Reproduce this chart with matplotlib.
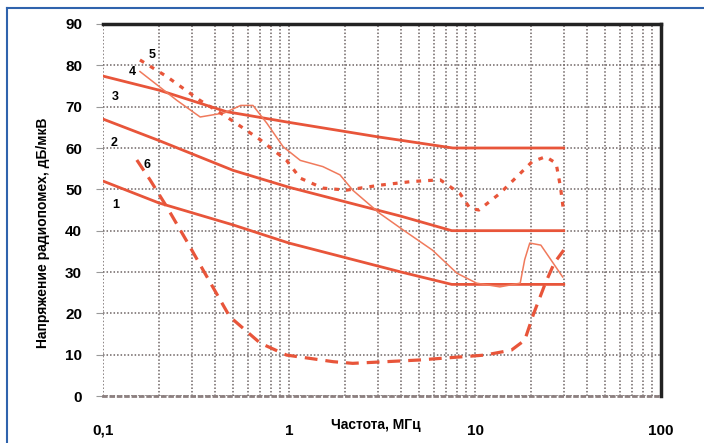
import numpy as np
import matplotlib.pyplot as plt
from matplotlib.ticker import LogLocator, NullFormatter, FixedLocator, FixedFormatter
from matplotlib.lines import Line2D

plt.rcParams['font.family'] = ['Liberation Sans', 'DejaVu Sans']

# limit curves 1-3 (MHz, dB/uV)
f1 = [0.1, 0.2, 0.5, 1.0, 4.0, 7.5, 30]
u1 = [52, 46.7, 41.4, 37.0, 30.0, 27.0, 27.0]
f2 = [0.1, 0.2, 0.5, 1.0, 4.0, 7.5, 30]
u2 = [67, 61.8, 54.6, 50.5, 43.5, 40.0, 40.0]
f3 = [0.1, 0.2, 0.46, 1.0, 3.0, 7.6, 30]
u3 = [77.4, 74.0, 68.8, 66.2, 62.7, 60.0, 60.0]

# curve 4 - thin measured line
f4 = [0.158, 0.25, 0.333, 0.45, 0.55, 0.64, 0.76, 0.93, 1.15, 1.52, 1.88, 2.2,
      3.07, 4.1, 5.9, 8.0, 10.2, 13.6, 17.5, 18.5, 19.7, 22.6, 29.6]
u4 = [78.5, 71.5, 67.5, 68.5, 70.3, 70.3, 66.0, 60.3, 57.0, 55.5, 53.5, 49.8,
      44.2, 40.2, 35.3, 29.7, 27.3, 26.4, 27.3, 33.0, 37.0, 36.5, 28.8]

# curve 5 - dotted measured line
f5 = [0.158, 0.22, 0.33, 0.46, 0.7, 0.97, 1.15, 1.52, 2.04, 3.07, 4.6, 6.5,
      8.3, 9.4, 10.5, 13.6, 20.3, 24.0, 27.3, 28.8, 29.8]
u5 = [81.3, 77.3, 71.6, 67.6, 62.0, 57.0, 52.7, 50.3, 49.8, 51.0, 51.9, 52.3,
      49.0, 45.4, 45.0, 49.0, 56.7, 57.9, 56.3, 50.6, 45.4]

# curve 6 - dashed measured line
f6 = [0.152, 0.179, 0.22, 0.28, 0.345, 0.48, 0.7, 0.97, 1.73, 2.2, 4.97, 11.3,
      15.7, 18.5, 20.7, 23.9, 26.7, 30.0]
u6 = [57.1, 52.3, 45.8, 37.7, 30.5, 19.2, 12.8, 9.9, 8.3, 7.9, 8.7, 9.9,
      11.1, 13.5, 20.0, 27.3, 32.2, 35.3]

labels = ['1', '2', '3', '4', '5', '6']
label_f = [0.117, 0.114, 0.116, 0.143, 0.184, 0.173]
label_u = [46.2, 61.2, 72.3, 78.4, 82.5, 56.0]

red = '#e8553a'

fig = plt.figure(figsize=(7.04, 4.43), dpi=100)
ax = fig.add_axes([103 / 704, 1 - 396 / 443, 558 / 704, 372 / 443])

# blue frame round the picture
fig.add_artist(Line2D([7 / 704, 7 / 704], [0, 1 - 8 / 443], color='#2f63ad', lw=1.5,
                      transform=fig.transFigure))
fig.add_artist(Line2D([7 / 704, 1], [1 - 8 / 443, 1 - 8 / 443], color='#2f63ad', lw=1.5,
                      transform=fig.transFigure))

ax.plot(f1, u1, color=red, lw=2)
ax.plot(f2, u2, color=red, lw=2)
ax.plot(f3, u3, color=red, lw=2)
ax.plot(f4, u4, color='#f07a5c', lw=1.1)
ax.plot(f5, u5, color=red, lw=2.3, linestyle=(0, (1.5, 2.2)))
ax.plot(f6, u6, color=red, lw=2.3, linestyle=(0, (4, 2.5)))

for t, x, y in zip(labels, label_f, label_u):
    ax.text(x, y, t, fontsize=9, fontweight='bold', ha='center', va='center')

ax.set_xscale('log')
ax.set_xlim(0.1, 100)
ax.set_ylim(0, 90)
ax.xaxis.set_major_locator(FixedLocator([0.1, 1, 10, 100]))
ax.xaxis.set_major_formatter(FixedFormatter(['0,1', '1', '10', '100']))
ax.xaxis.set_minor_locator(LogLocator(base=10, subs=np.arange(2, 10)))
ax.xaxis.set_minor_formatter(NullFormatter())
ax.set_yticks(range(0, 91, 10))

ax.set_axisbelow(True)
ax.grid(True, which='both', color='#6e6464', linestyle=(0, (1, 1.3)), lw=1.1)
ax.tick_params(axis='x', which='both', length=0, pad=20, labelsize=11)
ax.tick_params(axis='y', length=5, color='#999999', pad=10, labelsize=11)
for lab in ax.get_xticklabels() + ax.get_yticklabels():
    lab.set_fontweight('bold')

ax.spines['top'].set_linewidth(2.5)
ax.spines['right'].set_linewidth(2.5)
ax.spines['top'].set_color('#222222')
ax.spines['right'].set_color('#222222')
ax.spines['left'].set_visible(False)
ax.spines['bottom'].set_color('#8c8080')
ax.spines['bottom'].set_linestyle(':')
ax.spines['bottom'].set_linewidth(2)

fig.text(376 / 704, 1 - 425 / 443, 'Частота, МГц', fontsize=10, fontweight='bold',
         ha='center', va='center')
fig.text(43 / 704, 1 - 233 / 443, 'Напряжение радиопомех, дБ/мкВ', fontsize=10,
         fontweight='bold', rotation=90, ha='center', va='center')

fig.savefig('out.png', dpi=100)
